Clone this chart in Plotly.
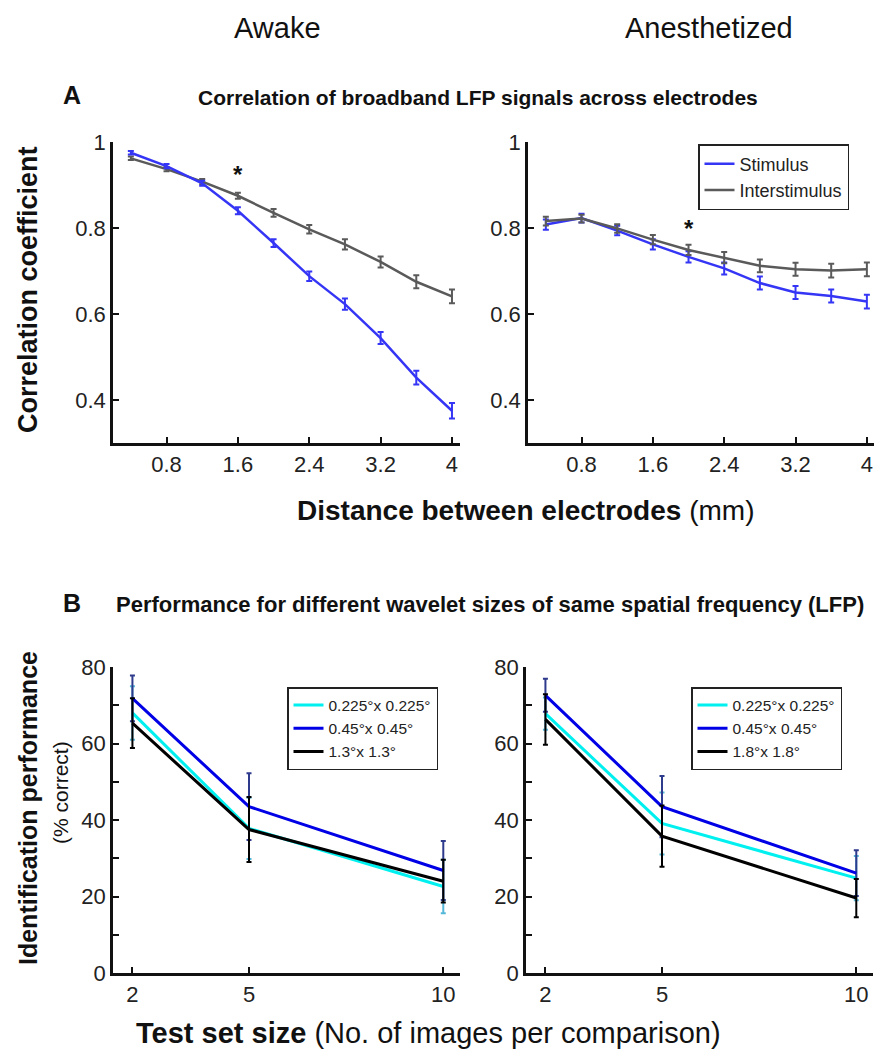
import plotly.graph_objects as go

# ---------------- data ----------------
dist_mm = [0.4, 0.8, 1.2, 1.6, 2.0, 2.4, 2.8, 3.2, 3.6, 4.0]

awake_stim = [0.975, 0.944, 0.904, 0.840, 0.765, 0.688, 0.623, 0.544, 0.452, 0.375]
awake_stim_err = [0.004, 0.005, 0.006, 0.008, 0.009, 0.011, 0.013, 0.014, 0.016, 0.018]
awake_inter = [0.962, 0.937, 0.908, 0.875, 0.835, 0.797, 0.762, 0.721, 0.675, 0.641]
awake_inter_err = [0.004, 0.005, 0.006, 0.007, 0.009, 0.010, 0.012, 0.013, 0.015, 0.016]

anes_stim = [0.808, 0.823, 0.794, 0.762, 0.733, 0.706, 0.672, 0.650, 0.642, 0.629]
anes_stim_err = [0.012, 0.010, 0.011, 0.012, 0.013, 0.014, 0.015, 0.015, 0.015, 0.016]
anes_inter = [0.816, 0.822, 0.799, 0.773, 0.749, 0.731, 0.712, 0.704, 0.701, 0.704]
anes_inter_err = [0.010, 0.009, 0.010, 0.011, 0.012, 0.013, 0.015, 0.015, 0.016, 0.016]

dist_ticks = [0.8, 1.6, 2.4, 3.2, 4.0]
dist_ticktext = ["0.8", "1.6", "2.4", "3.2", "4"]
corr_ticks = [0.4, 0.6, 0.8, 1.0]
corr_ticktext = ["0.4", "0.6", "0.8", "1"]

set_size = [2, 5, 10]
awake_small = [68.0, 37.8, 22.6]
awake_small_err = [7.0, 8.0, 7.0]
awake_mid = [71.8, 43.5, 26.8]
awake_mid_err = [6.0, 8.7, 7.7]
awake_large = [65.3, 37.5, 24.0]
awake_large_err = [6.5, 8.5, 5.6]

anes_small = [67.8, 39.1, 24.8]
anes_small_err = [4.2, 8.1, 5.8]
anes_mid = [72.6, 43.5, 26.1]
anes_mid_err = [4.3, 8.0, 6.0]
anes_large = [66.3, 35.8, 19.6]
anes_large_err = [6.6, 8.0, 5.0]

perf_ticks = [0, 10, 20, 30, 40, 50, 60, 70, 80]
perf_ticktext = ["0", "", "20", "", "40", "", "60", "", "80"]

names_top = ["Stimulus", "Interstimulus"]
names_awake = ["0.225°x 0.225°", "0.45°x 0.45°", "1.3°x 1.3°"]
names_anes = ["0.225°x 0.225°", "0.45°x 0.45°", "1.8°x 1.8°"]

# ---------------- style ----------------
W, H = 874, 1052
FONT = "Liberation Sans, Arial, sans-serif"
BLUE = "#3535f5"
GRAY = "#5a5a5a"
CYAN = "#00f0f0"
DBLUE = "#0000e6"
BLACK = "#000000"
CYAN_ERR = "#55b8d8"
DBLUE_ERR = "#2e3a8c"


def px(x):
    return x / W


def py(y):
    return 1 - y / H


fig = go.Figure()


def add_line(x, y, err, color, errcolor, name, xa, ya, legend, show, width, capw):
    fig.add_trace(go.Scatter(
        x=x, y=y, mode="lines", name=name,
        line=dict(color=color, width=width),
        error_y=dict(type="data", array=err, visible=True, color=errcolor,
                     thickness=2, width=capw),
        xaxis=xa, yaxis=ya, legend=legend, showlegend=show,
    ))


# top left (awake)
add_line(dist_mm, awake_inter, awake_inter_err, GRAY, GRAY, names_top[1], "x", "y", "legend", False, 2.5, 3)
add_line(dist_mm, awake_stim, awake_stim_err, BLUE, BLUE, names_top[0], "x", "y", "legend", False, 2.5, 3)
# top right (anesthetized)
add_line(dist_mm, anes_stim, anes_stim_err, BLUE, BLUE, names_top[0], "x2", "y2", "legend", True, 2.5, 3)
add_line(dist_mm, anes_inter, anes_inter_err, GRAY, GRAY, names_top[1], "x2", "y2", "legend", True, 2.5, 3)

# bottom left
add_line(set_size, awake_small, awake_small_err, CYAN, CYAN_ERR, names_awake[0], "x3", "y3", "legend2", True, 3, 2.5)
add_line(set_size, awake_mid, awake_mid_err, DBLUE, DBLUE_ERR, names_awake[1], "x3", "y3", "legend2", True, 3, 2.5)
add_line(set_size, awake_large, awake_large_err, BLACK, BLACK, names_awake[2], "x3", "y3", "legend2", True, 3, 2.5)
# bottom right
add_line(set_size, anes_small, anes_small_err, CYAN, CYAN_ERR, names_anes[0], "x4", "y4", "legend3", True, 3, 2.5)
add_line(set_size, anes_mid, anes_mid_err, DBLUE, DBLUE_ERR, names_anes[1], "x4", "y4", "legend3", True, 3, 2.5)
add_line(set_size, anes_large, anes_large_err, BLACK, BLACK, names_anes[2], "x4", "y4", "legend3", True, 3, 2.5)

axis_common = dict(
    showline=True, linecolor="#111", linewidth=2.5, ticks="inside", ticklen=6,
    tickwidth=2, tickcolor="#111", showgrid=False, zeroline=False,
    tickfont=dict(family=FONT, size=22, color="#222"), mirror=False,
)

top_y = [py(443), py(142)]
bot_y = [py(973), py(667)]

fig.update_layout(
    xaxis=dict(domain=[px(113), px(460)], range=[0.2, 4.09], tickvals=dist_ticks,
               ticktext=dist_ticktext, anchor="y", **axis_common),
    yaxis=dict(domain=top_y, range=[0.3, 1.0], tickvals=corr_ticks,
               ticktext=corr_ticktext, anchor="x", **axis_common),
    xaxis2=dict(domain=[px(528), px(874)], range=[0.2, 4.08], tickvals=dist_ticks,
                ticktext=dist_ticktext, anchor="y2", **axis_common),
    yaxis2=dict(domain=top_y, range=[0.3, 1.0], tickvals=corr_ticks,
                ticktext=corr_ticktext, anchor="x2", **axis_common),
    xaxis3=dict(domain=[px(113), px(460)], range=[1.5, 10.43], tickvals=set_size,
                anchor="y3", **axis_common),
    yaxis3=dict(domain=bot_y, range=[0, 80], tickvals=perf_ticks,
                ticktext=perf_ticktext, anchor="x3", **axis_common),
    xaxis4=dict(domain=[px(526), px(873)], range=[1.5, 10.43], tickvals=set_size,
                anchor="y4", **axis_common),
    yaxis4=dict(domain=bot_y, range=[0, 80], tickvals=perf_ticks,
                ticktext=perf_ticktext, anchor="x4", **axis_common),
)

legend_common = dict(bgcolor="white", bordercolor="#222", borderwidth=1.5,
                     xanchor="left", yanchor="top", tracegroupgap=0,
                     itemwidth=30)

fig.update_layout(
    width=W, height=H, margin=dict(l=0, r=0, t=0, b=0, autoexpand=False),
    paper_bgcolor="white", plot_bgcolor="white",
    legend=dict(x=px(698), y=py(144), font=dict(family=FONT, size=18, color="#222"), **legend_common),
    legend2=dict(x=px(287), y=py(687), font=dict(family=FONT, size=15.5, color="#222"), **legend_common),
    legend3=dict(x=px(691), y=py(687), font=dict(family=FONT, size=15.5, color="#222"), **legend_common),
)

ann = []


def text(x, y, s, size, bold=False, angle=0, xanchor="center"):
    ann.append(dict(x=px(x), y=py(y), xref="paper", yref="paper", text=(f"<b>{s}</b>" if bold else s),
                    showarrow=False, textangle=angle, xanchor=xanchor, yanchor="middle",
                    font=dict(family=FONT, size=size, color="#111")))


text(277, 28, "Awake", 29)
text(709, 28, "Anesthetized", 29)
text(72, 95, "A", 25, bold=True)
text(478, 97, "Correlation of broadband LFP signals across electrodes", 21, bold=True)
text(28, 290, "Correlation coefficient", 27, bold=True, angle=-90)
text(525, 510, "<b>Distance between electrodes</b> (mm)", 28)
text(72, 603, "B", 25, bold=True)
text(490, 604, "Performance for different wavelet sizes of same spatial frequency (LFP)", 22, bold=True)
text(28, 808, "Identification performance", 25, bold=True, angle=-90)
text(60, 793, "(% correct)", 21, angle=-90)
text(428, 1033, "<b>Test set size</b> (No. of images per comparison)", 29)

# significance asterisks
ann.append(dict(x=1.6, y=0.925, xref="x", yref="y", text="<b>*</b>", showarrow=False,
                font=dict(family=FONT, size=24, color="#111")))
ann.append(dict(x=2.0, y=0.80, xref="x2", yref="y2", text="<b>*</b>", showarrow=False,
                font=dict(family=FONT, size=24, color="#111")))

fig.update_layout(annotations=ann)

fig.write_html("out.html", config={"displayModeBar": False},
               post_script="document.body.style.margin='0';document.body.style.overflow='hidden';")
